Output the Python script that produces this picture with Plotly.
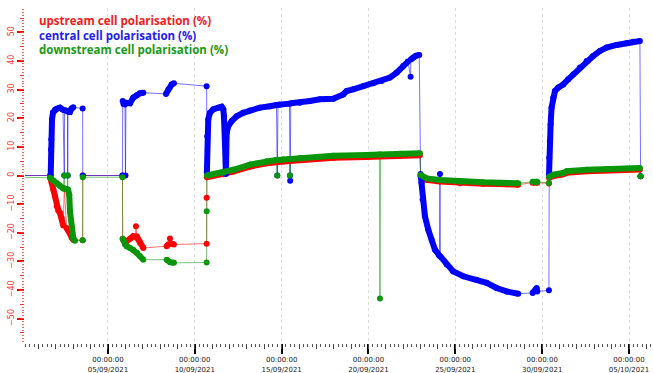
import plotly.graph_objects as go

# ---------------- data ----------------
blue_time = [
    "2021-08-31 00:00",
    "2021-09-01 16:50", "2021-09-01 17:15", "2021-09-01 17:40", "2021-09-01 18:40", "2021-09-01 20:00",
    "2021-09-01 22:50", "2021-09-02 01:10", "2021-09-02 05:40", "2021-09-02 09:50",
    "2021-09-02 11:40", "2021-09-02 12:00", "2021-09-02 16:00", "2021-09-02 16:20",
    "2021-09-02 16:45", "2021-09-02 19:30", "2021-09-02 21:30", "2021-09-03 00:00",
    "2021-09-03 13:00", "2021-09-03 13:10", "2021-09-05 20:00",
    "2021-09-05 20:20", "2021-09-05 21:25", "2021-09-05 23:30", "2021-09-06 00:10",
    "2021-09-06 00:50", "2021-09-06 06:25", "2021-09-06 11:00", "2021-09-06 15:40", "2021-09-06 20:10", "2021-09-07 00:50",
    "2021-09-08 08:10", "2021-09-08 11:20", "2021-09-08 16:00", "2021-09-08 19:10",
    "2021-09-10 16:20",
    "2021-09-10 16:40", "2021-09-10 17:10", "2021-09-10 18:35", "2021-09-10 20:55", "2021-09-11 01:30",
    "2021-09-11 08:25", "2021-09-11 13:05", "2021-09-11 15:20", "2021-09-11 16:15", "2021-09-11 17:40",
    "2021-09-11 19:00", "2021-09-11 20:00", "2021-09-11 22:10", "2021-09-12 02:55", "2021-09-12 09:50",
    "2021-09-12 18:55", "2021-09-13 04:10", "2021-09-13 18:00", "2021-09-14 07:50", "2021-09-14 16:50",
    "2021-09-14 17:55", "2021-09-14 18:55", "2021-09-14 21:40", "2021-09-15 10:50",
    "2021-09-15 11:30", "2021-09-15 11:50", "2021-09-15 12:35",
    "2021-09-16 01:20", "2021-09-16 15:05", "2021-09-17 04:55", "2021-09-17 23:20", "2021-09-18 13:05",
    "2021-09-18 17:50", "2021-09-19 02:55", "2021-09-19 16:45", "2021-09-20 06:35", "2021-09-20 18:10",
    "2021-09-21 05:40", "2021-09-21 14:55", "2021-09-22 00:00", "2021-09-22 06:30",
    "2021-09-22 10:10", "2021-09-22 10:30", "2021-09-22 13:50", "2021-09-22 17:30", "2021-09-22 22:10",
    "2021-09-23 00:00", "2021-09-23 01:25", "2021-09-23 02:50", "2021-09-23 06:00", "2021-09-23 10:35",
    "2021-09-23 15:20", "2021-09-23 19:50", "2021-09-24 02:00",
    "2021-09-24 02:45", "2021-09-24 03:25", "2021-09-24 12:00", "2021-09-24 21:05", "2021-09-25 10:55",
    "2021-09-26 05:25", "2021-09-26 19:10", "2021-09-27 09:00", "2021-09-27 22:50", "2021-09-28 14:55",
    "2021-09-29 10:50", "2021-09-29 16:20", "2021-09-29 17:10",
    "2021-09-30 09:20",
    "2021-09-30 09:30", "2021-09-30 09:45", "2021-09-30 10:40", "2021-09-30 11:40", "2021-09-30 13:00",
    "2021-09-30 15:20", "2021-09-30 17:40", "2021-09-30 22:15", "2021-10-01 05:05", "2021-10-01 12:00",
    "2021-10-01 18:55", "2021-10-02 04:10", "2021-10-02 13:25", "2021-10-02 22:30", "2021-10-03 07:50",
    "2021-10-03 17:00", "2021-10-04 06:55", "2021-10-04 20:40", "2021-10-05 05:50", "2021-10-05 15:05",
    "2021-10-05 16:00",
]
blue_value = [
    0.0,
    0.0, 9.0, 12.6, 19.6, 22.0,
    23.0, 23.3, 23.7, 23.0,
    0.0, 22.8, 22.5, 0.0,
    22.3, 22.2, 23.3, 23.8,
    23.4, 0.0, 0.0,
    26.0, 25.0, 24.8, 0.0,
    25.4, 25.2, 27.2, 28.0, 28.7, 28.9,
    28.5, 30.0, 31.8, 32.2,
    31.2,
    1.0, 13.7, 19.6, 21.9, 23.1,
    23.7, 24.0, 23.1, 20.7, 11.4,
    0.5, 14.9, 17.2, 19.0, 20.7,
    21.9, 22.7, 23.7, 24.2, 24.6,
    0.0, 24.7, 24.7, 25.1,
    0.0, -1.8, 25.2,
    25.4, 26.0, 26.6, 26.8, 28.3,
    29.5, 30.1, 31.2, 32.2, 33.0,
    34.2, 35.9, 38.2, 39.8,
    34.5, 40.5, 41.2, 41.8, 42.1,
    0.5, -2.6, -8.4, -14.2, -18.9,
    -22.4, -25.9, -28.0,
    0.5, -28.3, -31.1, -33.5, -35.2,
    -36.4, -37.5, -39.3, -40.5, -41.3,
    -41.0, -39.3, -40.5,
    -40.1,
    0.3, 6.2, 12.0, 17.8, 23.7,
    27.2, 29.5, 30.7, 31.8, 33.6,
    35.3, 37.7, 40.0, 41.7, 43.5,
    44.7, 45.6, 46.2, 46.7, 47.0,
    -0.3,
]
# 1 = recorded continuously from the previous sample, 0 = after a gap
blue_joined = [
    0,
    0, 1, 1, 1, 1,
    1, 1, 1, 1,
    0, 0, 1, 0,
    0, 1, 1, 1,
    0, 0, 0,
    0, 1, 1, 0,
    0, 1, 1, 1, 1, 1,
    0, 1, 1, 1,
    0,
    0, 1, 1, 1, 1,
    1, 1, 1, 1, 1,
    1, 1, 1, 1, 1,
    1, 1, 1, 1, 1,
    0, 0, 1, 1,
    0, 0, 0,
    1, 1, 1, 1, 1,
    1, 1, 1, 1, 1,
    1, 1, 1, 1,
    0, 0, 1, 1, 1,
    0, 1, 1, 1, 1,
    1, 1, 1,
    0, 0, 1, 1, 1,
    1, 1, 1, 1, 1,
    0, 1, 1,
    0,
    0, 1, 1, 1, 1,
    1, 1, 1, 1, 1,
    1, 1, 1, 1, 1,
    1, 1, 1, 1, 1,
    0,
]

red_time = [
    "2021-08-31 00:00",
    "2021-09-01 15:50", "2021-09-01 16:50", "2021-09-01 18:10", "2021-09-01 20:25", "2021-09-01 22:50",
    "2021-09-02 01:10", "2021-09-02 03:35", "2021-09-02 05:40", "2021-09-02 08:00", "2021-09-02 10:10",
    "2021-09-02 11:40",
    "2021-09-02 14:50", "2021-09-02 16:45", "2021-09-02 19:30", "2021-09-02 21:50", "2021-09-03 00:05",
    "2021-09-03 13:00", "2021-09-03 13:10", "2021-09-05 20:00",
    "2021-09-05 20:20", "2021-09-05 23:30", "2021-09-06 01:50", "2021-09-06 06:25", "2021-09-06 11:00",
    "2021-09-06 14:00", "2021-09-06 14:40",
    "2021-09-06 15:40", "2021-09-06 17:55", "2021-09-06 20:10", "2021-09-07 00:50",
    "2021-09-08 09:05", "2021-09-08 11:40", "2021-09-08 13:40", "2021-09-08 16:00", "2021-09-08 19:10",
    "2021-09-10 16:20", "2021-09-10 16:25",
    "2021-09-10 16:40", "2021-09-11 15:20", "2021-09-12 05:05", "2021-09-13 04:10", "2021-09-14 03:15",
    "2021-09-15 02:10", "2021-09-16 01:20", "2021-09-17 23:20", "2021-09-19 21:25", "2021-09-21 19:25",
    "2021-09-22 23:05",
    "2021-09-23 00:00", "2021-09-23 08:20", "2021-09-24 02:45", "2021-09-25 06:25", "2021-09-26 14:35",
    "2021-09-27 13:35", "2021-09-28 14:55",
    "2021-09-29 10:50", "2021-09-29 17:10",
    "2021-09-30 09:20",
    "2021-09-30 09:30", "2021-09-30 15:20", "2021-10-01 05:05", "2021-10-01 09:50", "2021-10-02 13:25",
    "2021-10-03 17:00", "2021-10-05 15:05",
    "2021-10-05 16:00",
]
red_value = [
    0.0,
    0.0, -1.2, -2.5, -4.9, -7.2,
    -10.7, -12.3, -13.0, -14.8, -17.5,
    -4.5,
    -18.3, -19.0, -20.0, -21.7, -22.4,
    -22.6, 0.0, 0.0,
    -22.1, -23.5, -23.0, -22.1, -21.2,
    -21.5, -17.7,
    -21.2, -22.4, -23.5, -25.3,
    -24.7, -24.0, -22.0, -23.8, -24.1,
    -23.8, -7.8,
    -0.6, 0.4, 1.4, 3.1, 4.3,
    4.9, 5.4, 6.2, 6.5, 6.9,
    7.1,
    -0.2, -1.5, -2.1, -2.7, -2.9,
    -3.0, -3.2,
    -2.5, -2.5,
    -2.8,
    -0.9, -0.2, 0.4, 1.0, 1.5,
    1.8, 2.1,
    -0.3,
]
red_joined = [
    0,
    0, 1, 1, 1, 1,
    1, 1, 1, 1, 1,
    0,
    0, 1, 1, 1, 1,
    0, 0, 0,
    0, 1, 1, 1, 1,
    1, 0,
    0, 1, 1, 1,
    0, 1, 0, 0, 1,
    0, 0,
    0, 1, 1, 1, 1,
    1, 1, 1, 1, 1,
    1,
    0, 1, 1, 1, 1,
    1, 1,
    0, 1,
    0,
    0, 1, 1, 1, 1,
    1, 1,
    0,
]

green_time = [
    "2021-08-31 00:00",
    "2021-09-01 15:50", "2021-09-01 20:25", "2021-09-02 01:10", "2021-09-02 05:40", "2021-09-02 10:10",
    "2021-09-02 11:40", "2021-09-02 12:00", "2021-09-02 16:00", "2021-09-02 16:20",
    "2021-09-02 16:45", "2021-09-02 18:30", "2021-09-02 19:30", "2021-09-02 21:50", "2021-09-03 00:05",
    "2021-09-03 02:25",
    "2021-09-03 13:00", "2021-09-03 13:10", "2021-09-05 20:00",
    "2021-09-05 20:20", "2021-09-05 23:30", "2021-09-06 01:50", "2021-09-06 06:25", "2021-09-06 11:00",
    "2021-09-06 15:40", "2021-09-06 20:10", "2021-09-07 00:50",
    "2021-09-08 09:05", "2021-09-08 13:40", "2021-09-08 19:10",
    "2021-09-10 16:20", "2021-09-10 16:25",
    "2021-09-10 16:40", "2021-09-11 15:20", "2021-09-12 05:05", "2021-09-13 04:10", "2021-09-14 03:15",
    "2021-09-14 16:50", "2021-09-14 17:55", "2021-09-14 18:55", "2021-09-15 02:10", "2021-09-15 10:50",
    "2021-09-15 11:30", "2021-09-15 12:35", "2021-09-16 01:20", "2021-09-17 23:20", "2021-09-19 21:25",
    "2021-09-20 15:00", "2021-09-20 15:50", "2021-09-20 16:40", "2021-09-21 19:25", "2021-09-22 23:05",
    "2021-09-23 00:00", "2021-09-23 08:20", "2021-09-24 02:45", "2021-09-25 06:25", "2021-09-26 14:35",
    "2021-09-27 13:35", "2021-09-28 14:55",
    "2021-09-29 10:50", "2021-09-29 17:10",
    "2021-09-30 09:20",
    "2021-09-30 09:30", "2021-09-30 15:20", "2021-10-01 05:05", "2021-10-01 09:50", "2021-10-02 13:25",
    "2021-10-03 17:00", "2021-10-05 15:05",
    "2021-10-05 16:00",
]
green_value = [
    -0.6,
    -0.8, -1.8, -2.7, -3.6, -4.5,
    0.0, -4.6, -4.8, 0.0,
    -4.9, -6.8, -12.6, -18.4, -21.9,
    -22.8,
    -22.6, -0.6, -0.6,
    -22.1, -24.1, -24.7, -25.3, -25.9,
    -27.0, -28.2, -29.4,
    -29.4, -30.3, -30.5,
    -30.4, -12.5,
    0.0, 1.0, 2.0, 3.8, 5.0,
    5.4, 0.0, 5.4, 5.6, 5.8,
    0.0, 5.8, 6.1, 6.9, 7.2,
    7.3, -43.0, 7.3, 7.6, 7.8,
    0.2, -1.0, -1.6, -2.2, -2.4,
    -2.5, -2.7,
    -2.2, -2.2,
    -2.6,
    -0.5, 0.3, 0.9, 1.5, 2.0,
    2.3, 2.6,
    -0.3,
]
green_joined = [
    0,
    0, 1, 1, 1, 1,
    0, 0, 1, 0,
    0, 1, 1, 1, 1,
    1,
    0, 0, 0,
    0, 1, 1, 1, 1,
    1, 1, 1,
    0, 1, 1,
    0, 0,
    0, 1, 1, 1, 1,
    1, 0, 0, 1, 1,
    0, 0, 1, 1, 1,
    1, 0, 0, 1, 1,
    0, 1, 1, 1, 1,
    1, 1,
    0, 1,
    0,
    0, 1, 1, 1, 1,
    1, 1,
    0,
]

legend_labels = ["upstream cell polarisation (%)",
                 "central cell polarisation (%)",
                 "downstream cell polarisation (%)"]

# ---------------- figure ----------------
series = [
    (red_time, red_value, red_joined, "#ff0000", "rgba(255,0,0,0.55)"),
    (blue_time, blue_value, blue_joined, "#0000ff", "rgba(0,0,255,0.55)"),
    (green_time, green_value, green_joined, "#0a960a", "rgba(10,150,10,0.55)"),
]

fig = go.Figure()
for t, v, j, col, thin in series:
    assert len(t) == len(v) == len(j)
    fig.add_trace(go.Scatter(x=t, y=v, mode="lines", line=dict(color=thin, width=1),
                             showlegend=False, hoverinfo="skip"))
for t, v, j, col, thin in series:
    xs, ys = [], []
    for i, (tt, vv, jj) in enumerate(zip(t, v, j)):
        if i > 0 and not jj:
            xs.append(None)
            ys.append(None)
        xs.append(tt)
        ys.append(vv)
    fig.add_trace(go.Scatter(x=xs, y=ys, mode="lines+markers", connectgaps=False,
                             line=dict(color=col, width=6),
                             marker=dict(size=6, color=col),
                             showlegend=False))

# helper trace for the extra tick levels
fig.add_trace(go.Scatter(x=[None], y=[None], xaxis="x2", yaxis="y2", showlegend=False,
                         hoverinfo="skip"))

xr = ["2021-08-31 05:20", "2021-10-06 09:10"]
yr = [-58.5, 58.5]

fig.update_layout(
    width=653, height=373,
    margin=dict(l=25, r=0, t=8, b=30),
    paper_bgcolor="white", plot_bgcolor="white",
    showlegend=False,
    xaxis=dict(type="date", range=xr, tick0="2021-09-05", dtick=5 * 86400000,
               tickformat="%H:%M:%S<br>%d/%m/%Y",
               ticks="outside", ticklen=10, tickwidth=2, tickcolor="black",
               tickfont=dict(family="DejaVu Sans", size=7, color="#222222"),
               showgrid=True, gridcolor="#dddddd", griddash="dot", gridwidth=1,
               showline=False, zeroline=False, automargin=False,
               minor=dict(ticks="outside", dtick=6 * 3600000, ticklen=3, tickcolor="#555555",
                          tickwidth=1, showgrid=False)),
    xaxis2=dict(type="date", range=xr, overlaying="x", tick0="2021-09-05", dtick=86400000,
                ticks="outside", ticklen=5, tickcolor="#444444", tickwidth=1,
                showticklabels=False, showgrid=False, zeroline=False, showline=False),
    yaxis=dict(range=yr, tick0=0, dtick=10, tickangle=-90,
               ticks="outside", ticklen=7, tickwidth=2, tickcolor="#ff0000",
               tickfont=dict(family="DejaVu Sans", size=8, color="#ff3030"),
               showgrid=False, zeroline=False, showline=False, automargin=False,
               minor=dict(ticks="outside", dtick=1, ticklen=2, tickcolor="#ff6060", tickwidth=1,
                          showgrid=False)),
    yaxis2=dict(range=yr, overlaying="y", tick0=0, dtick=5, ticks="outside", ticklen=4,
                tickcolor="#ff3030", tickwidth=1, showticklabels=False, showgrid=False,
                zeroline=False, showline=False),
)

leg_colors = ["#f02020", "#2020ee", "#189a18"]
leg_y = [0.964, 0.919, 0.875]
for lab, c, yy in zip(legend_labels, leg_colors, leg_y):
    fig.add_annotation(text=lab, xref="paper", yref="paper", x=0.019, y=yy,
                       xanchor="left", yanchor="middle", showarrow=False,
                       font=dict(family="Open Sans", size=11.5, color=c, weight="bold"))

fig.write_html("out.html")
